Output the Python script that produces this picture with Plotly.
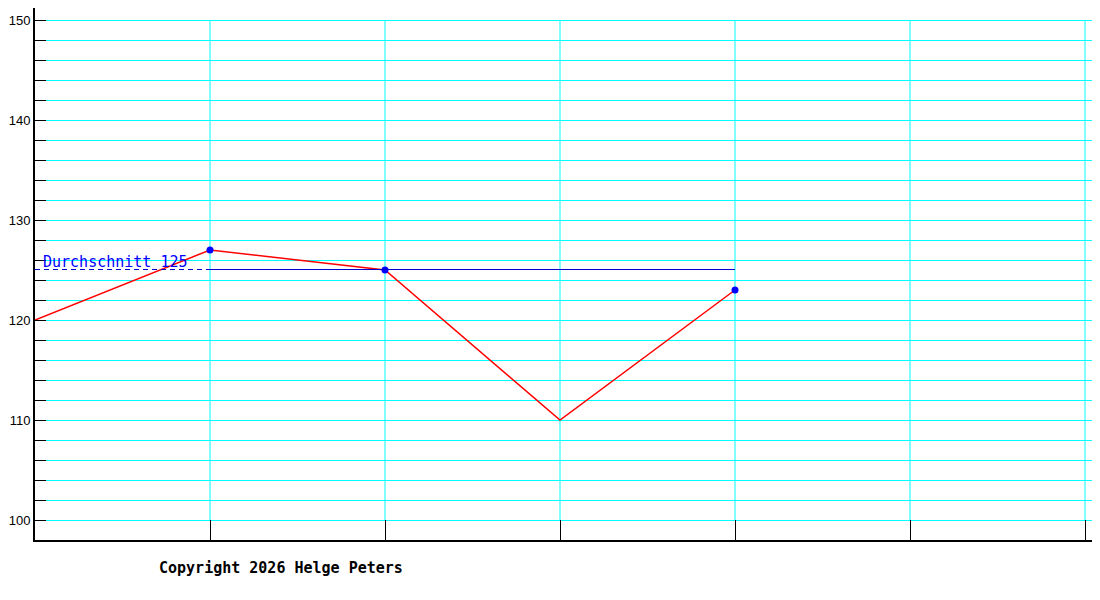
import plotly.graph_objects as go

# --- data ---
x_pos = [0, 1, 2, 3, 4]
values = [120, 127, 125, 110, 123]
marked = [0, 1, 1, 0, 1]          # points drawn with a blue marker
y_ticks = list(range(100, 151, 2))
y_labels = [str(v) if v % 10 == 0 else "" for v in y_ticks]
x_grid = [1, 2, 3, 4, 5, 6]
copyright_text = "Copyright 2026 Helge Peters"

# average of the marked points
marked_vals = [v for v, m in zip(values, marked) if m]
avg = sum(marked_vals) / len(marked_vals)
marked_x = [x for x, m in zip(x_pos, marked) if m]

fig = go.Figure()

# vertical grid (only between 100 and 150)
shapes = []
for gx in x_grid:
    shapes.append(dict(type="line", x0=gx, x1=gx, y0=y_ticks[0], y1=y_ticks[-1],
                       xref="x", yref="y", line=dict(color="#00ffff", width=1),
                       layer="below"))

# average line: dashed up to first marked point, solid across marked points
# (nudged half a pixel so the 1px line renders crisp)
half_px = 0.05
avg_y = avg + half_px
shapes.append(dict(type="line", x0=x_pos[0], x1=marked_x[0], y0=avg_y, y1=avg_y,
                   xref="x", yref="y", line=dict(color="#0000cc", width=1, dash="5px,4px")))
shapes.append(dict(type="line", x0=marked_x[0], x1=marked_x[-1], y0=avg_y, y1=avg_y,
                   xref="x", yref="y", line=dict(color="#0000cc", width=1)))

# data line
fig.add_trace(go.Scatter(
    x=x_pos, y=values, mode="lines+markers",
    line=dict(color="#ff0000", width=1.5),
    marker=dict(color="#0000ff", size=7, opacity=marked),
    hoverinfo="skip", showlegend=False))

fig.add_annotation(
    x=x_pos[0], y=avg, xref="x", yref="y", text=f"Durchschnitt {avg:.0f}",
    showarrow=False, xanchor="left", yanchor="bottom", xshift=6, yshift=-3,
    font=dict(family="DejaVu Sans Mono", size=15, color="#0000ff"))

fig.add_annotation(
    x=0.1146, y=-0.0525, xref="paper", yref="paper", text=f"<b>{copyright_text}</b>",
    showarrow=False, xanchor="left", yanchor="middle",
    font=dict(family="DejaVu Sans Mono", size=15, color="#000000"))

# page body has an 8px margin, so the figure is offset by 8px
fig.update_layout(
    width=1100, height=600,
    margin=dict(l=27, r=8, t=0, b=68, autoexpand=False),
    plot_bgcolor="white", paper_bgcolor="white",
    shapes=shapes,
    font=dict(family="Liberation Sans", size=13, color="#000000"),
    xaxis=dict(range=[0, 1065 / 175], showgrid=False, zeroline=False,
               showline=True, linecolor="#000000", linewidth=2,
               tickvals=x_grid, ticktext=["" for _ in x_grid],
               ticks="inside", ticklen=20, tickcolor="#000000", tickwidth=1,
               automargin=False),
    yaxis=dict(range=[98, 98 + 53.2], showgrid=True, gridcolor="#00ffff", gridwidth=1,
               zeroline=False, showline=True, linecolor="#000000", linewidth=2,
               tickvals=y_ticks, ticktext=y_labels,
               ticks="inside", ticklen=11, tickcolor="#000000", tickwidth=1,
               ticklabelstandoff=0, automargin=False),
)

fig.write_html("out.html")
